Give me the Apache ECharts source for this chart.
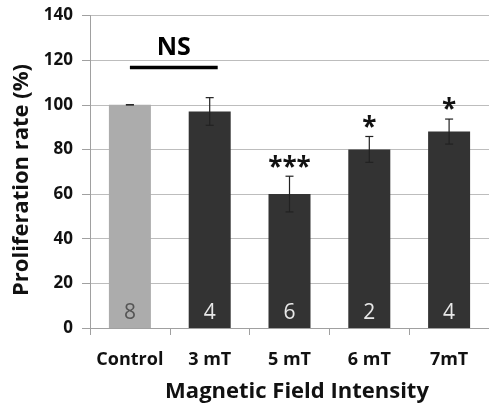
<!DOCTYPE html>
<html><head><meta charset="utf-8">
<script src="https://cdn.jsdelivr.net/npm/echarts@6/dist/echarts.min.js"></script>
<style>html,body{margin:0;padding:0;background:#fff}#c{width:489px;height:408px}</style>
</head><body><div id="c"></div>
<script>
const categories = ['Control', '3 mT', '5 mT', '6 mT', '7mT'];
const means = [100, 97, 60, 80, 88];
const errors = [0, 6.2, 8, 5.8, 5.6];
const counts = ['8', '4', '6', '2', '4'];
const significance = ['', '', '***', '*', '*'];
const yTicks = { min: 0, max: 140, interval: 20 };
const nsLevel = 116.7;

const FONT = 'Open Sans';
const chart = echarts.init(document.getElementById('c'));

const barData = means.map((v, i) => ({
  value: v,
  itemStyle: { color: i === 0 ? '#acacac' : '#333333' },
  label: { color: i === 0 ? '#555555' : '#e8e8e8' }
}));

const errData = means.map((v, i) => [i, v, errors[i]]);

chart.setOption({
  animation: false,
  grid: { left: 90, top: 15.5, width: 401.5, height: 312.5 },
  xAxis: {
    type: 'category', data: categories,
    axisLine: { lineStyle: { color: '#a0a0a0', width: 1 } },
    axisTick: { show: true, length: 7, lineStyle: { color: '#a0a0a0' } },
    axisLabel: { interval: 0, fontFamily: FONT, fontWeight: 'bold', fontSize: 18, color: '#111', margin: 23 }
  },
  yAxis: {
    type: 'value', min: yTicks.min, max: yTicks.max, interval: yTicks.interval,
    axisLine: { show: true, lineStyle: { color: '#a0a0a0' } },
    axisTick: { show: true, length: 8, lineStyle: { color: '#a0a0a0' } },
    splitLine: { lineStyle: { color: '#bdbdbd', width: 1 } },
    axisLabel: { fontFamily: FONT, fontWeight: 'bold', fontSize: 17, color: '#111', margin: 17 }
  },
  graphic: [
    { type: 'text', x: 22, y: 180, rotation: Math.PI / 2,
      style: { text: 'Proliferation rate (%)', fontFamily: FONT, fontWeight: 'bold', fontSize: 22,
               fill: '#111', textAlign: 'center', textVerticalAlign: 'middle' } },
    { type: 'text', x: 297, y: 392,
      style: { text: 'Magnetic Field Intensity', fontFamily: FONT, fontWeight: 'bold', fontSize: 22,
               fill: '#111', textAlign: 'center', textVerticalAlign: 'middle' } }
  ],
  series: [
    {
      type: 'bar', data: barData, barWidth: 42,
      label: { show: true, position: 'insideBottom', distance: 4,
               formatter: p => counts[p.dataIndex], fontFamily: FONT, fontSize: 21 }
    },
    {
      type: 'custom', data: errData, z: 10,
      renderItem: (params, api) => {
        const i = api.value(0), m = api.value(1), e = api.value(2);
        const top = api.coord([i, m + e]);
        const bot = api.coord([i, m - e]);
        const cap = 4;
        const children = [
          { type: 'line', shape: { x1: top[0], y1: top[1], x2: bot[0], y2: bot[1] }, style: { stroke: '#222', lineWidth: 1.2 } },
          { type: 'line', shape: { x1: top[0] - cap, y1: top[1], x2: top[0] + cap, y2: top[1] }, style: { stroke: '#222', lineWidth: 1.2 } },
          { type: 'line', shape: { x1: bot[0] - cap, y1: bot[1], x2: bot[0] + cap, y2: bot[1] }, style: { stroke: '#222', lineWidth: 1.2 } }
        ];
        const sig = significance[params.dataIndex];
        if (sig) {
          children.push({ type: 'text', x: top[0], y: top[1] - 8,
            style: { text: sig, fontFamily: FONT, fontWeight: 'bold', fontSize: 26, fill: '#111',
                     textAlign: 'center', textVerticalAlign: 'middle' } });
        }
        return { type: 'group', children };
      }
    },
    {
      type: 'custom', data: [[0, 1, nsLevel]], z: 10,
      renderItem: (params, api) => {
        const a = api.coord([api.value(0), api.value(2)]);
        const b = api.coord([api.value(1), api.value(2)]);
        const x2 = b[0] + 8;
        return { type: 'group', children: [
          { type: 'line', shape: { x1: a[0], y1: a[1], x2: x2, y2: a[1] }, style: { stroke: '#000', lineWidth: 3.5 } },
          { type: 'text', x: (a[0] + x2) / 2, y: a[1] - 20,
            style: { text: 'NS', fontFamily: FONT, fontWeight: 'bold', fontSize: 25, fill: '#000',
                     textAlign: 'center', textVerticalAlign: 'middle' } }
        ] };
      }
    }
  ]
});
</script></body></html>
